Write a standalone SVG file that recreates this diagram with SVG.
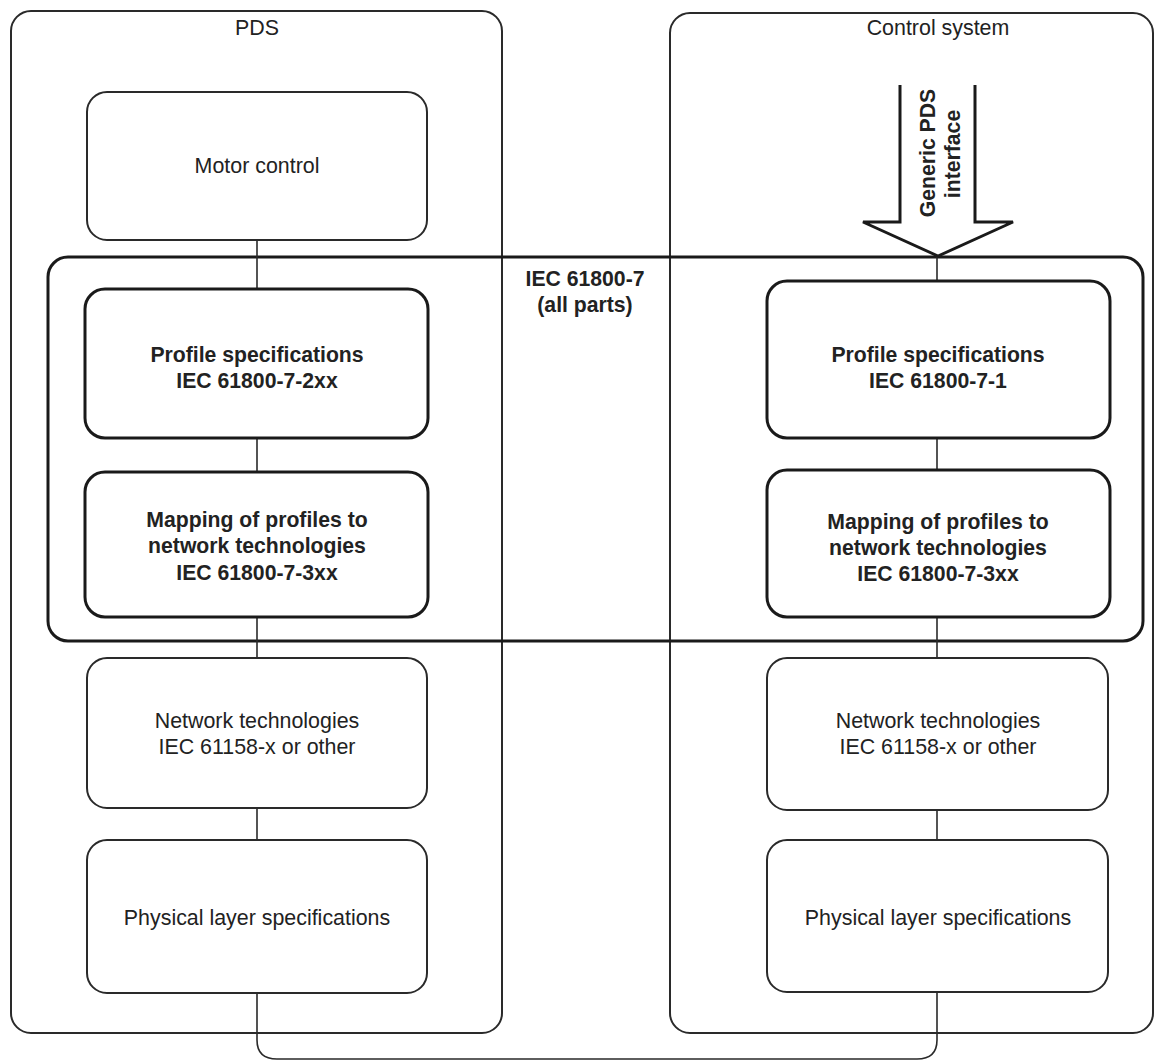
<svg xmlns="http://www.w3.org/2000/svg" width="1155" height="1062" viewBox="0 0 1155 1062">
<style>
.frame{fill:none;stroke:#2a2a2a;stroke-width:2}
.std{fill:#fff;stroke:#2a2a2a;stroke-width:2}
.bold{fill:#fff;stroke:#1a1a1a;stroke-width:3}
.iec{fill:none;stroke:#1a1a1a;stroke-width:3}
.conn{fill:none;stroke:#2a2a2a;stroke-width:1.6}
.t{font-family:"Liberation Sans",Arial,sans-serif;font-size:21.4px;fill:#222;text-anchor:middle}
.tb{font-family:"Liberation Sans",Arial,sans-serif;font-size:21.2px;font-weight:bold;fill:#222;text-anchor:middle}
</style>
<rect width="1155" height="1062" fill="#fff"/>
<g id="pds">
<rect class="frame" x="11" y="11" width="491" height="1022" rx="20"/>
<text class="t" x="257" y="35">PDS</text>
</g>
<g id="control-system">
<rect class="frame" x="670" y="13" width="483" height="1020" rx="20"/>
<text class="t" x="938" y="35">Control system</text>
</g>
<g id="iec61800-7">
<rect class="iec" x="48" y="257" width="1095" height="384" rx="20"/>
<text class="tb" x="585" y="286">IEC 61800-7</text>
<text class="tb" x="585" y="312">(all parts)</text>
</g>
<g id="connectors">
<line class="conn" x1="257" y1="240" x2="257" y2="289"/>
<line class="conn" x1="257" y1="438" x2="257" y2="472"/>
<line class="conn" x1="257" y1="617" x2="257" y2="658"/>
<line class="conn" x1="257" y1="808" x2="257" y2="840"/>
<line class="conn" x1="937" y1="256" x2="937" y2="281"/>
<line class="conn" x1="937" y1="438" x2="937" y2="470"/>
<line class="conn" x1="937" y1="617" x2="937" y2="658"/>
<line class="conn" x1="937" y1="810" x2="937" y2="840"/>
<path class="conn" d="M257,993 V1040 Q257,1059 277,1059 H917 Q937,1059 937,1040 V992"/>
</g>
<g id="generic-pds-interface">
<polyline points="900,85 900,222 863,222 938,256 1013,222 975,222 975,85" fill="#fff" stroke="#1a1a1a" stroke-width="3" stroke-linejoin="miter"/>
<text class="tb" transform="translate(935,153) rotate(-90)">Generic PDS</text>
<text class="tb" transform="translate(960,154) rotate(-90)">interface</text>
</g>
<g id="motor-control">
<rect class="std" x="87" y="92" width="340" height="148" rx="20"/>
<text class="t" x="257" y="173">Motor control</text>
</g>
<g id="profile-left">
<rect class="bold" x="85" y="289" width="343" height="149" rx="20"/>
<text class="tb" x="257" y="362">Profile specifications</text>
<text class="tb" x="257" y="388">IEC 61800-7-2xx</text>
</g>
<g id="mapping-left">
<rect class="bold" x="85" y="472" width="343" height="145" rx="20"/>
<text class="tb" x="257" y="527">Mapping of profiles to</text>
<text class="tb" x="257" y="553">network technologies</text>
<text class="tb" x="257" y="580">IEC 61800-7-3xx</text>
</g>
<g id="network-left">
<rect class="std" x="87" y="658" width="340" height="150" rx="20"/>
<text class="t" x="257" y="728">Network technologies</text>
<text class="t" x="257" y="754">IEC 61158-x or other</text>
</g>
<g id="physical-left">
<rect class="std" x="87" y="840" width="340" height="153" rx="20"/>
<text class="t" x="257" y="925">Physical layer specifications</text>
</g>
<g id="profile-right">
<rect class="bold" x="767" y="281" width="343" height="157" rx="20"/>
<text class="tb" x="938" y="362">Profile specifications</text>
<text class="tb" x="938" y="388">IEC 61800-7-1</text>
</g>
<g id="mapping-right">
<rect class="bold" x="767" y="470" width="343" height="147" rx="20"/>
<text class="tb" x="938" y="529">Mapping of profiles to</text>
<text class="tb" x="938" y="555">network technologies</text>
<text class="tb" x="938" y="581">IEC 61800-7-3xx</text>
</g>
<g id="network-right">
<rect class="std" x="767" y="658" width="341" height="152" rx="20"/>
<text class="t" x="938" y="728">Network technologies</text>
<text class="t" x="938" y="754">IEC 61158-x or other</text>
</g>
<g id="physical-right">
<rect class="std" x="767" y="840" width="341" height="152" rx="20"/>
<text class="t" x="938" y="925">Physical layer specifications</text>
</g>
</svg>
